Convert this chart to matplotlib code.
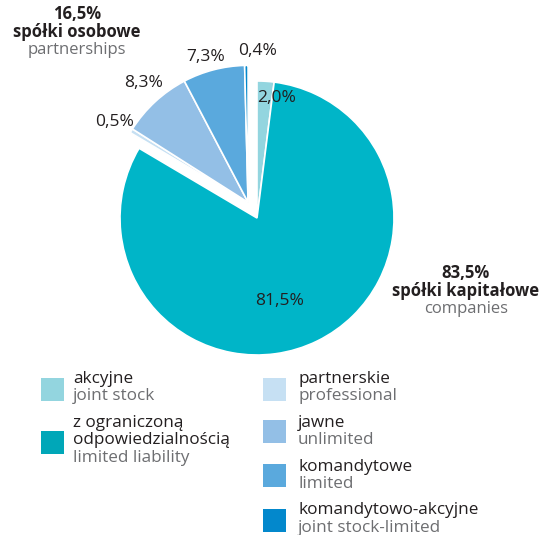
import matplotlib
matplotlib.use('Agg')
import matplotlib.pyplot as plt
from matplotlib.patches import Rectangle
import numpy as np

plt.rcParams['font.family'] = ['Open Sans', 'DejaVu Sans']

# dane: udział form prawnych spółek (%)
slices_pl = ['akcyjne', 'z ograniczoną\nodpowiedzialnością', 'partnerskie', 'jawne',
             'komandytowe', 'komandytowo-akcyjne']
slices_en = ['joint stock', 'limited liability', 'professional', 'unlimited',
             'limited', 'joint stock-limited']
shares = [2.0, 81.5, 0.5, 8.3, 7.3, 0.4]
share_labels = ['2,0%', '81,5%', '0,5%', '8,3%', '7,3%', '0,4%']
groups = ['companies', 'companies', 'partnerships', 'partnerships', 'partnerships', 'partnerships']

group_pct = ['83,5%', '16,5%']
group_pl = ['spółki kapitałowe', 'spółki osobowe']
group_en = ['companies', 'partnerships']

colors = ['#93d5df', '#00b5c8', '#c6e0f3', '#93bfe6', '#5aa9dd', '#0388cc']
legend_colors = ['#93d5df', '#00a7b8', '#c6e0f3', '#93bfe6', '#5aa9dd', '#0388cc']
dark = '#231f20'
grey = '#6d6e71'

W, H = 541, 535
fig = plt.figure(figsize=(W / 100, H / 100), dpi=100)
ax = fig.add_axes([0, 0, 1, 1])

def py(y):
    # współrzędne pikselowe od góry -> układ osi
    return H - y

center = (257, py(218))
wedges, _ = ax.pie(shares, colors=colors, startangle=90, counterclock=False,
                   center=center, radius=137,
                   wedgeprops=dict(edgecolor='white', linewidth=1.2))

# wysunięcie całej grupy spółek osobowych o wspólny wektor
part = [w for w, g in zip(wedges, groups) if g == 'partnerships']
t1 = min(w.theta1 for w in part)
t2 = max(w.theta2 for w in part)
mid = np.deg2rad((t1 + t2) / 2)
off = 18
for w in part:
    w.set_center((center[0] + off * np.cos(mid), center[1] + off * np.sin(mid)))

ax.set_xlim(0, W)
ax.set_ylim(0, H)
ax.set_aspect('equal')
ax.axis('off')

# etykiety procentowe
label_pos = [(277, 98), (280, 301), (115, 122), (144, 83), (206, 57), (258, 51)]
for txt, (x, y) in zip(share_labels, label_pos):
    ax.text(x, py(y), txt, ha='center', va='center', fontsize=12.5, color=dark)

# etykiety grup
group_pos = [(466, 273), (77, 14)]
for pct, pl, en, (x, y) in zip(group_pct, group_pl, group_en, group_pos):
    ax.text(x, py(y), pct, ha='center', va='center', fontsize=12, fontweight='bold', color=dark)
    ax.text(x, py(y + 18), pl, ha='center', va='center', fontsize=12, fontweight='bold', color=dark)
    ax.text(x, py(y + 36), en, ha='center', va='center', fontsize=12, color=grey)

# legenda
leg_sq = [(52, 389), (52, 442), (274, 389), (274, 431), (274, 475), (274, 520)]
leg_txt = [(73, 379), (73, 423), (298, 379), (298, 423), (298, 467), (298, 510)]
for i in range(len(shares)):
    cx, cy = leg_sq[i]
    ax.add_patch(Rectangle((cx - 11.5, py(cy) - 11.5), 23, 23, color=legend_colors[i], lw=0))
    tx, ty = leg_txt[i]
    lines = slices_pl[i].split('\n')
    for j, line in enumerate(lines):
        ax.text(tx, py(ty + 17.5 * j), line, ha='left', va='center', fontsize=12.3, color=dark)
    ax.text(tx, py(ty + 17.5 * len(lines)), slices_en[i], ha='left', va='center',
            fontsize=12.3, color=grey)

fig.savefig('out.png', dpi=100)
